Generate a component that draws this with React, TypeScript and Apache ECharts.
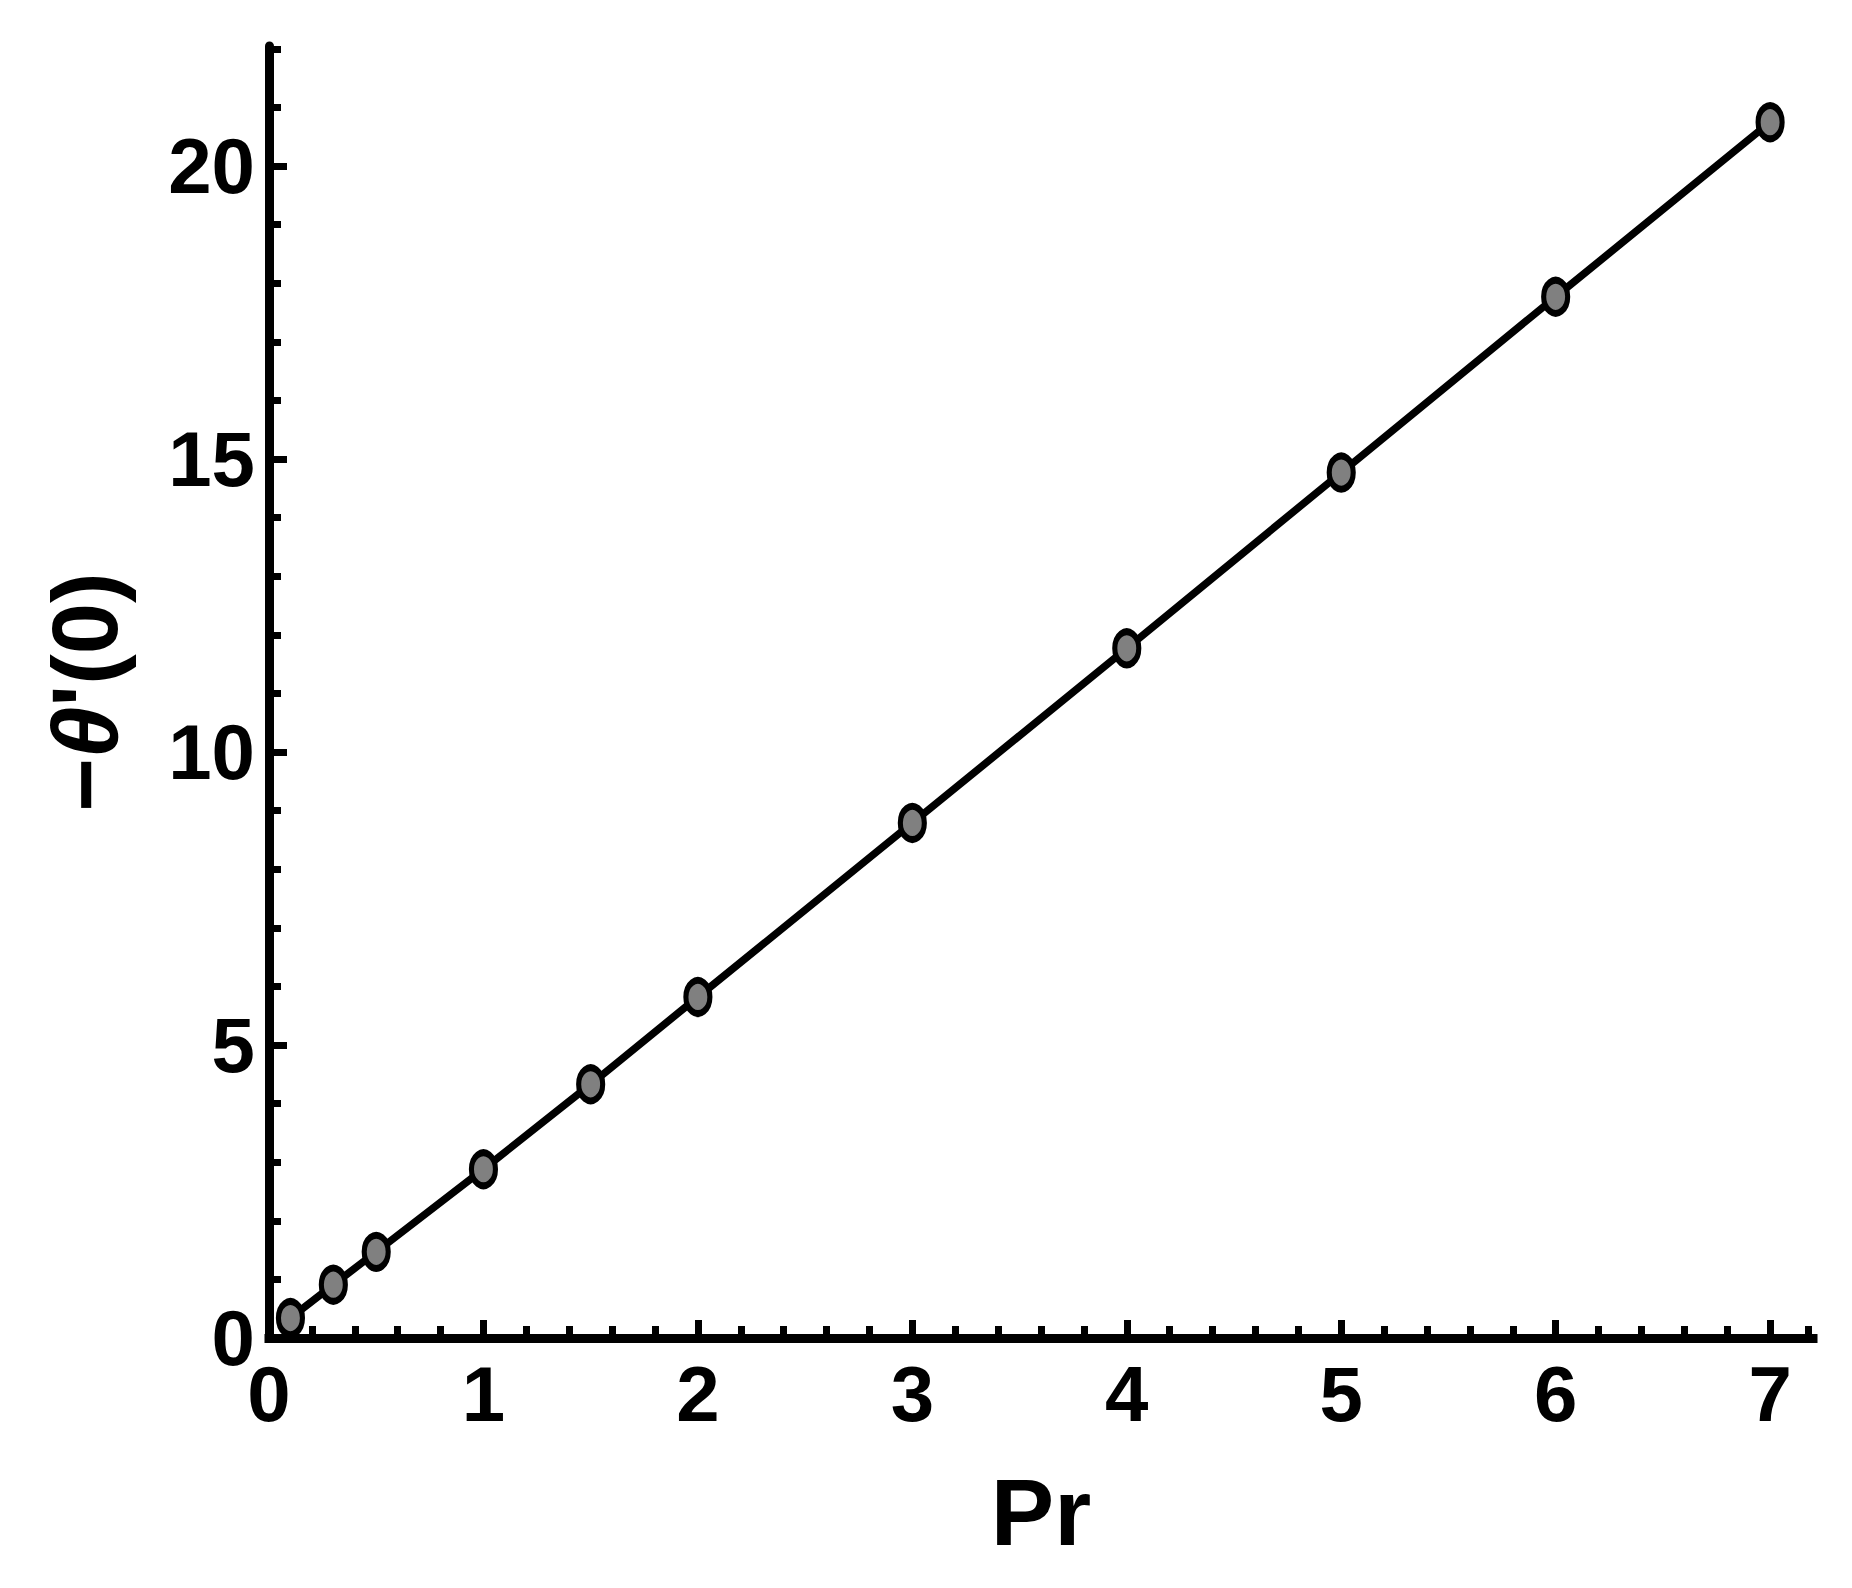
import React, { useEffect, useRef } from "react";
import * as echarts from "echarts";

// Data
const prValues = [0.1, 0.3, 0.5, 1, 1.5, 2, 3, 4, 5, 6, 7];
const thetaValues = [0.34, 0.91, 1.47, 2.88, 4.33, 5.82, 8.79, 11.77, 14.77, 17.77, 20.75];

// Tick values
const xMajorTicks = [0, 1, 2, 3, 4, 5, 6, 7];
const xMinorTicks = [
  0.2, 0.4, 0.6, 0.8, 1.2, 1.4, 1.6, 1.8, 2.2, 2.4, 2.6, 2.8, 3.2, 3.4, 3.6, 3.8,
  4.2, 4.4, 4.6, 4.8, 5.2, 5.4, 5.6, 5.8, 6.2, 6.4, 6.6, 6.8, 7.18,
];
const yMajorTicks = [0, 5, 10, 15, 20];
const yMinorTicks = [1, 2, 3, 4, 6, 7, 8, 9, 11, 12, 13, 14, 16, 17, 18, 19, 21, 22];

const X_MIN = 0;
const X_MAX = 7.2;
const Y_MIN = 0;
const Y_MAX = 22.05;

const FONT = "'Liberation Sans', Arial, Helvetica, sans-serif";

export default function App() {
  const ref = useRef<HTMLDivElement>(null);

  useEffect(() => {
    if (!ref.current) return;
    const chart = echarts.init(ref.current, undefined, { renderer: "svg" });

    const axisLineStyle = { color: "#000", width: 9 };
    const labelStyle = {
      color: "#000",
      fontFamily: FONT,
      fontWeight: "bold" as const,
      fontSize: 78,
    };

    const option: any = {
      animation: false,
      backgroundColor: "#fff",
      grid: { left: 269, right: 39, top: 46, bottom: 250, containLabel: false },
      xAxis: [
        {
          type: "value",
          position: "bottom",
          min: X_MIN,
          max: X_MAX,
          axisLine: { show: true, onZero: false, lineStyle: { ...axisLineStyle, cap: "square" } },
          axisTick: {
            show: true,
            inside: true,
            length: 18,
            lineStyle: { color: "#000", width: 7 },
            customValues: xMajorTicks,
          },
          axisLabel: {
            ...labelStyle,
            margin: 17,
            customValues: xMajorTicks,
            formatter: (v: number) => String(v),
          },
          splitLine: { show: false },
          name: "Pr",
          nameLocation: "middle",
          nameGap: 126,
          nameTextStyle: { color: "#000", fontFamily: FONT, fontWeight: "bold", fontSize: 95 },
        },
        {
          type: "value",
          position: "bottom",
          min: X_MIN,
          max: X_MAX,
          axisLine: { show: false, onZero: false },
          axisTick: {
            show: true,
            inside: true,
            length: 12,
            lineStyle: { color: "#000", width: 7 },
            customValues: xMinorTicks,
          },
          axisLabel: { show: false },
          splitLine: { show: false },
        },
      ],
      yAxis: [
        {
          type: "value",
          position: "left",
          min: Y_MIN,
          max: Y_MAX,
          axisLine: { show: true, onZero: false, lineStyle: { ...axisLineStyle } },
          axisTick: {
            show: true,
            inside: true,
            length: 18,
            lineStyle: { color: "#000", width: 7 },
            customValues: yMajorTicks,
          },
          axisLabel: {
            ...labelStyle,
            margin: 14,
            customValues: yMajorTicks,
            formatter: (v: number) => String(v),
          },
          splitLine: { show: false },
          name: "{m|−}{t|θ}{m|'(0)}",
          nameLocation: "middle",
          nameGap: 138,
          nameRotate: 90,
          nameTextStyle: {
            color: "#000",
            fontFamily: FONT,
            fontWeight: "bold",
            fontSize: 92,
            rich: {
              m: { fontFamily: FONT, fontWeight: "bold", fontSize: 92, color: "#000" },
              t: { fontFamily: FONT, fontWeight: "bold", fontStyle: "italic", fontSize: 92, color: "#000" },
            },
          },
        },
        {
          type: "value",
          position: "left",
          min: Y_MIN,
          max: Y_MAX,
          axisLine: { show: false, onZero: false },
          axisTick: {
            show: true,
            inside: true,
            length: 12,
            lineStyle: { color: "#000", width: 7 },
            customValues: yMinorTicks,
          },
          axisLabel: { show: false },
          splitLine: { show: false },
        },
      ],
      series: [
        {
          type: "line",
          xAxisIndex: 0,
          yAxisIndex: 0,
          data: prValues.map((x, i) => [x, thetaValues[i]]),
          symbol: "circle",
          symbolSize: [24, 33],
          showAllSymbol: true,
          lineStyle: { color: "#000", width: 7.5 },
          itemStyle: { color: "#808080", borderColor: "#000", borderWidth: 6 },
          z: 5,
        },
      ],
    };

    chart.setOption(option);
    return () => chart.dispose();
  }, []);

  return (
    <div
      ref={ref}
      style={{ position: "fixed", left: 0, top: 0, width: 1852, height: 1588, background: "#fff" }}
    />
  );
}
